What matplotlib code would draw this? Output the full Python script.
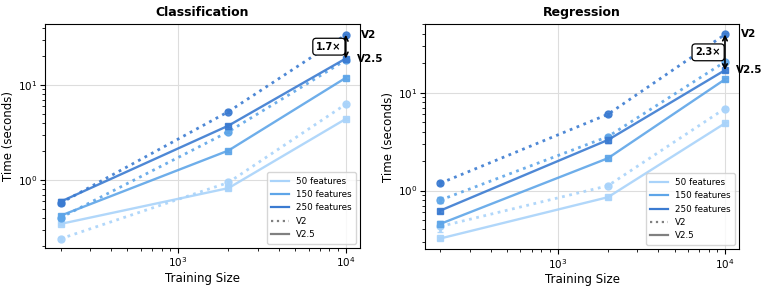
import numpy as np
import matplotlib.pyplot as plt

# %% DATA
sizes = [200, 2000, 10000]
features = ['50 features', '150 features', '250 features']
colours = ['#a9d3fa', '#5ea5e8', '#3b7bd1']

# classification times (seconds)
clf_v2 = [[0.24, 0.94, 6.27], [0.40, 3.22, 18.3], [0.57, 5.24, 33.8]]
clf_v25 = [[0.344, 0.82, 4.39], [0.42, 2.04, 11.9], [0.59, 3.73, 19.0]]
clf_v2_err = [[0.01, 0.05, 0.2], [0.02, 0.12, 0.5], [0.03, 0.2, 1.0]]
clf_v25_err = [[0.01, 0.04, 0.15], [0.02, 0.08, 0.4], [0.04, 0.15, 0.8]]

# regression times (seconds)
reg_v2 = [[0.43, 1.12, 6.9], [0.80, 3.56, 20.7], [1.19, 6.02, 39.4]]
reg_v25 = [[0.324, 0.855, 4.87], [0.457, 2.14, 13.7], [0.625, 3.29, 17.0]]
reg_v2_err = [[0.05, 0.04, 0.2], [0.06, 0.15, 0.6], [0.06, 0.2, 1.2]]
reg_v25_err = [[0.01, 0.03, 0.2], [0.03, 0.08, 0.6], [0.03, 0.2, 0.6]]

speedups = ['1.7×', '2.3×']


def draw_panel(ax, v2, v25, v2_err, v25_err, title, ylim, speedup):
    for i in range(3):
        ax.errorbar(sizes, v2[i], yerr=v2_err[i], color=colours[i], ls=':', lw=2.0,
                    marker='o', ms=5, capsize=2, alpha=0.9)
        ax.errorbar(sizes, v25[i], yerr=v25_err[i], color=colours[i], ls='-', lw=1.7,
                    marker='s', ms=5, capsize=2, alpha=0.9)
    ax.set_xscale('log')
    ax.set_yscale('log')
    ax.set_xlim(162, 12160)
    ax.set_ylim(*ylim)
    ax.grid(True, which='major', color='#dddddd', lw=0.8)
    ax.set_title(title, fontsize=9, fontweight='bold')
    ax.set_xlabel('Training Size', fontsize=8.5, labelpad=2)
    ax.set_ylabel('Time (seconds)', fontsize=8.5, labelpad=2)
    ax.tick_params(labelsize=7.5, pad=2)

    # speed-up annotation between the two versions at the largest size
    top = v2[2][2]
    bot = v25[2][2]
    ax.annotate('', xy=(sizes[-1], bot), xytext=(sizes[-1], top),
                arrowprops=dict(arrowstyle='<->', color='black', lw=1.2,
                                shrinkA=0, shrinkB=0, mutation_scale=8))
    ax.annotate(speedup, xy=(sizes[-1], np.sqrt(top * bot)), xytext=(-3, 0),
                textcoords='offset points', ha='right', va='center',
                fontsize=7, fontweight='bold',
                bbox=dict(boxstyle='round,pad=0.35', fc='white', ec='black', lw=0.9))
    ax.annotate('V2', xy=(1.0, top), xycoords=('axes fraction', 'data'), xytext=(1, 0),
                textcoords='offset points', ha='left', va='center',
                fontsize=7.5, fontweight='bold', annotation_clip=False)
    ax.annotate('V2.5', xy=(1.0, bot), xycoords=('axes fraction', 'data'), xytext=(-2, 0),
                textcoords='offset points', ha='left', va='center',
                fontsize=7.5, fontweight='bold', annotation_clip=False)

    handles = [plt.Line2D([], [], color=c, lw=1.6) for c in colours]
    handles += [plt.Line2D([], [], color='gray', ls=':', lw=1.6),
                plt.Line2D([], [], color='gray', ls='-', lw=1.6)]
    ax.legend(handles, features + ['V2', 'V2.5'], loc='lower right', fontsize=6.3,
              handlelength=2.0, labelspacing=0.5, borderpad=0.5)


fig = plt.figure(figsize=(7.66, 2.87), dpi=100)
ax1 = fig.add_axes([0.059, 0.136, 0.411, 0.780])
ax2 = fig.add_axes([0.555, 0.132, 0.410, 0.784])

draw_panel(ax1, clf_v2, clf_v25, clf_v2_err, clf_v25_err, 'Classification', (0.192, 43.8), speedups[0])
draw_panel(ax2, reg_v2, reg_v25, reg_v2_err, reg_v25_err, 'Regression', (0.252, 50.3), speedups[1])

fig.savefig('out.png', dpi=100)
